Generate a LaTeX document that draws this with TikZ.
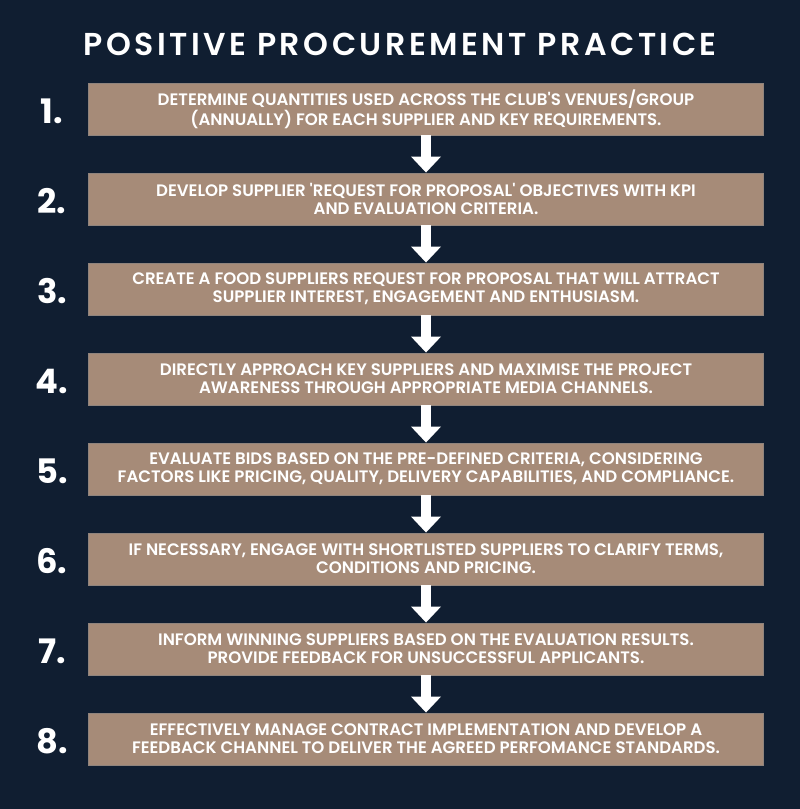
\documentclass[tikz,border=0pt]{standalone}
\usepackage{fontspec}
\setmainfont{Poppins}
\newfontfamily\stepfont{Poppins}[UprightFont=* SemiBold]
\newfontfamily\headfont{Poppins}[UprightFont=* SemiBold, LetterSpace=11]
\usetikzlibrary{arrows.meta,positioning}
\definecolor{navy}{RGB}{16,30,49}
\definecolor{tan}{RGB}{166,139,120}
\tikzset{
  stepbox/.style={fill=tan, draw=gray!60!tan, line width=0.6pt,
    minimum width=16.85cm, minimum height=1.3cm, inner sep=0pt,
    text=white, align=center, font=\fontsize{11.8}{12.8}\stepfont},
  num/.style={text=white, inner sep=0pt, font=\fontsize{24}{24}\selectfont\bfseries},
  flow/.style={white, line width=0.25cm, -{Triangle[width=0.725cm,length=0.4cm]}}
}
\begin{document}
\begin{tikzpicture}[x=0.025cm,y=-0.025cm]
   \fill[navy] (0,0) rectangle (800,809);
   \node[text=white, font=\fontsize{22.5}{26}\headfont] (title) at (400,44) {POSITIVE PROCUREMENT PRACTICE};
   \node[stepbox] (b1) at (426,109) {DETERMINE QUANTITIES USED ACROSS THE CLUB'S VENUES/GROUP\\(ANNUALLY) FOR EACH SUPPLIER AND KEY REQUIREMENTS.};
   \node[stepbox] (b2) at (426,199) {DEVELOP SUPPLIER 'REQUEST FOR PROPOSAL' OBJECTIVES WITH KPI\\AND EVALUATION CRITERIA.};
   \node[stepbox] (b3) at (426,289) {CREATE A FOOD SUPPLIERS REQUEST FOR PROPOSAL THAT WILL ATTRACT\\SUPPLIER INTEREST, ENGAGEMENT AND ENTHUSIASM.};
   \node[stepbox] (b4) at (426,379) {DIRECTLY APPROACH KEY SUPPLIERS AND MAXIMISE THE PROJECT\\AWARENESS THROUGH APPROPRIATE MEDIA CHANNELS.};
   \node[stepbox] (b5) at (426,469) {EVALUATE BIDS BASED ON THE PRE-DEFINED CRITERIA, CONSIDERING\\FACTORS LIKE PRICING, QUALITY, DELIVERY CAPABILITIES, AND COMPLIANCE.};
   \node[stepbox] (b6) at (426,559) {IF NECESSARY, ENGAGE WITH SHORTLISTED SUPPLIERS TO CLARIFY TERMS,\\CONDITIONS AND PRICING.};
   \node[stepbox] (b7) at (426,649) {INFORM WINNING SUPPLIERS BASED ON THE EVALUATION RESULTS.\\PROVIDE FEEDBACK FOR UNSUCCESSFUL APPLICANTS.};
   \node[stepbox] (b8) at (426,739) {EFFECTIVELY MANAGE CONTRACT IMPLEMENTATION AND DEVELOP A\\FEEDBACK CHANNEL TO DELIVER THE AGREED PERFOMANCE STANDARDS.};
   \node[num] (n1) at ( 52,111) {1.};
   \node[num] (n2) at ( 52,201) {2.};
   \node[num] (n3) at ( 52,291) {3.};
   \node[num] (n4) at ( 52,381) {4.};
   \node[num] (n5) at ( 52,471) {5.};
   \node[num] (n6) at ( 52,561) {6.};
   \node[num] (n7) at ( 52,651) {7.};
   \node[num] (n8) at ( 52,741) {8.};
   \draw[flow] (b1.south) -- (b2.north);
   \draw[flow] (b2.south) -- (b3.north);
   \draw[flow] (b3.south) -- (b4.north);
   \draw[flow] (b4.south) -- (b5.north);
   \draw[flow] (b5.south) -- (b6.north);
   \draw[flow] (b6.south) -- (b7.north);
   \draw[flow] (b7.south) -- (b8.north);
\end{tikzpicture}
\end{document}
